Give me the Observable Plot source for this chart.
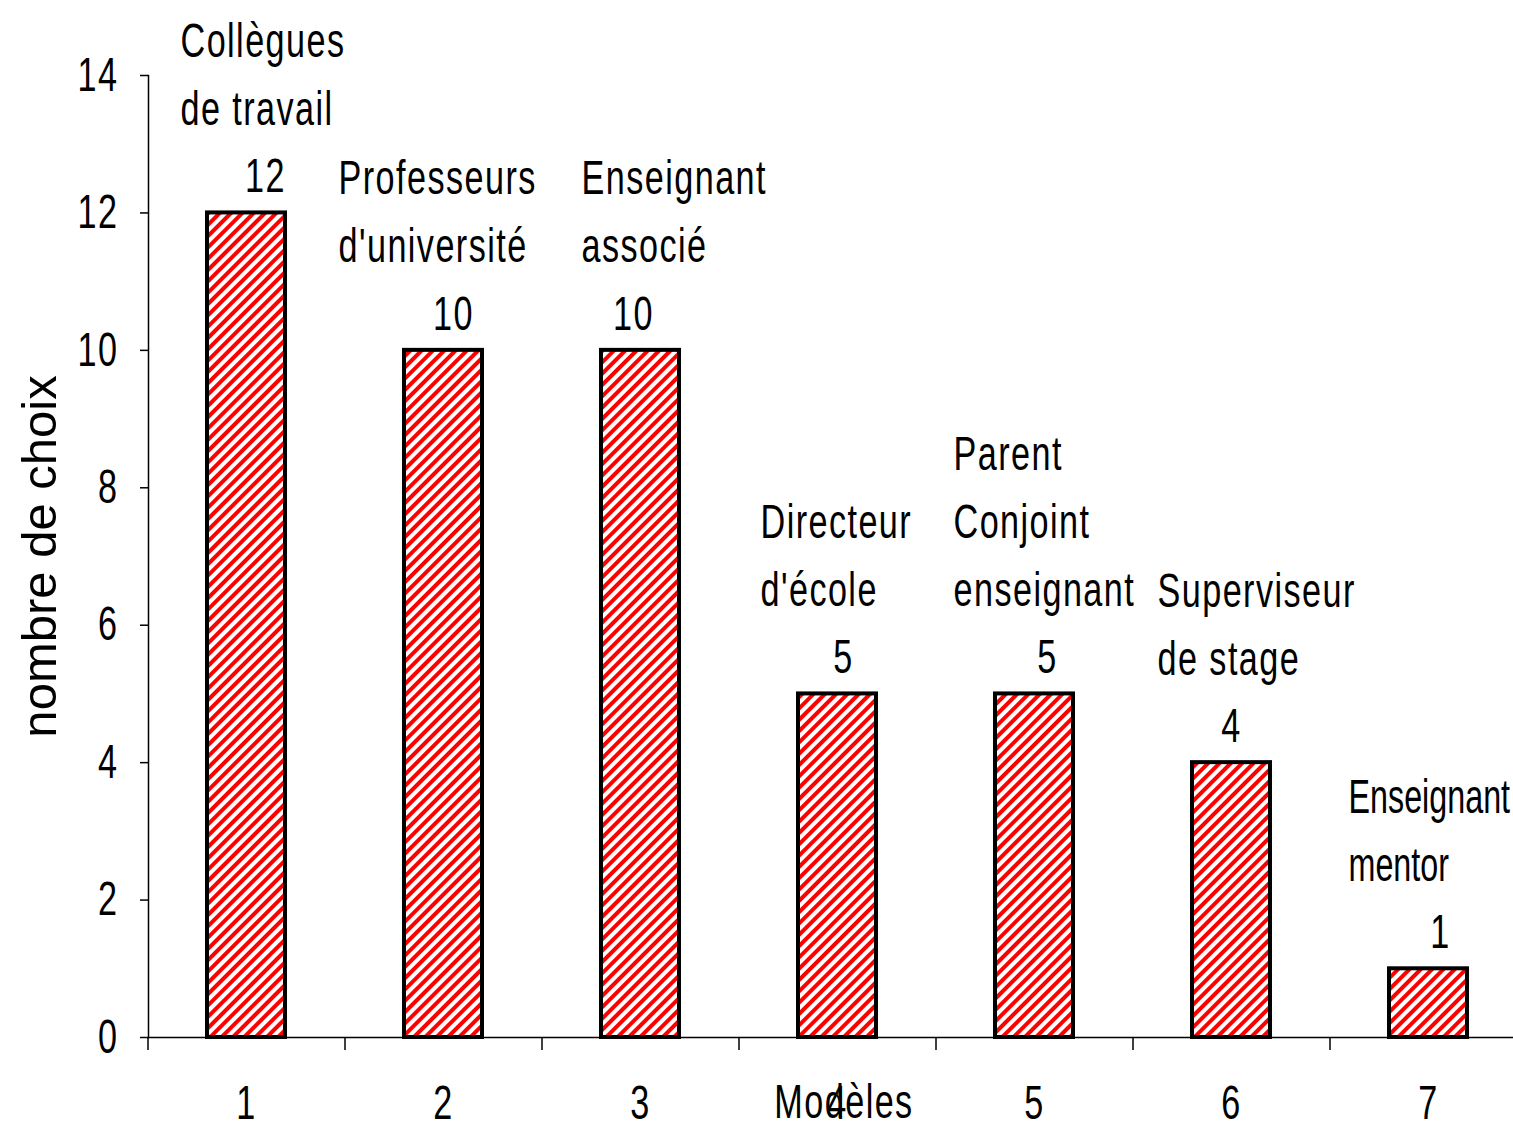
<!DOCTYPE html>
<html>
<head>
<meta charset="utf-8">
<script src="https://cdn.jsdelivr.net/npm/d3@7"></script>
<script src="https://cdn.jsdelivr.net/npm/@observablehq/plot@0.6"></script>
<style>
  html, body { margin: 0; padding: 0; background: #fff; overflow: hidden; }
</style>
</head>
<body>
<div id="chart"></div>
<script>
const categories = [1, 2, 3, 4, 5, 6, 7];
const values = [12, 10, 10, 5, 5, 4, 1];
const names = [
  "Collègues\nde travail",
  "Professeurs\nd'université",
  "Enseignant\nassocié",
  "Directeur\nd'école",
  "Parent\nConjoint\nenseignant",
  "Superviseur\nde stage",
  "Enseignant\nmentor"
];
const yTicks = [0, 2, 4, 6, 8, 10, 12, 14];
const xTitle = "Modèles";
const yTitle = "nombre de choix";

// label nudges (layout only), in pixels from the bar centre
const nameNudge = [-66, -105, -59, -77, -81, -74, -80];
const valueNudge = [19, 10, -7, 6, 13, 0, 12];

const data = categories.map((c, i) => ({cat: c, value: values[i], name: names[i]}));

const sans = "'Liberation Sans', Arial, 'Helvetica', sans-serif";
const fs = 47.5;
const squeeze = 0.72;

const defs = () => {
  const d = d3.create("svg:defs");
  const p = d.append("pattern")
    .attr("id", "hatch")
    .attr("patternUnits", "userSpaceOnUse")
    .attr("width", 8).attr("height", 8)
    .attr("patternTransform", "rotate(45)");
  p.append("rect").attr("width", 8).attr("height", 8).attr("fill", "#fff");
  p.append("rect").attr("width", 4).attr("height", 8).attr("fill", "#ff0000");
  return d.node();
};

const nameMarks = data.map((d, i) => Plot.text([d], {
  x: "cat", y: "value", text: "name", textAnchor: "start", lineAnchor: "bottom",
  lineHeight: 1.43, dx: nameNudge[i], dy: -88, fontSize: fs, fill: "#000"
}));
const valueMarks = data.map((d, i) => Plot.text([d], {
  x: "cat", y: "value", text: e => String(e.value), dx: valueNudge[i], dy: -36,
  lineAnchor: "middle", fontSize: fs, fill: "#000"
}));

const chart = Plot.plot({
  width: 1513,
  height: 1131,
  marginLeft: 148,
  marginRight: 0,
  marginTop: 75,
  marginBottom: 94,
  style: {fontFamily: sans, fontSize: fs + "px", color: "#000", background: "#fff"},
  x: {type: "band", domain: categories, range: [148, 1527], paddingInner: 0.604, paddingOuter: 0.302, label: null},
  y: {domain: [0, 14], label: null},
  marks: [
    defs,
    Plot.barY(data, {x: "cat", y: "value", fill: "url(#hatch)", stroke: "#000", strokeWidth: 4}),
    Plot.frame({anchor: "left", stroke: "#000", strokeWidth: 1.5}),
    Plot.ruleY([0], {stroke: "#000", strokeWidth: 1.5}),
    Plot.axisY({ticks: yTicks, tickSize: 8, tickPadding: 22, fontSize: fs, stroke: "#000", strokeWidth: 1.5, label: null}),
    Plot.axisX({tickSize: 13, tickFormat: () => "", dx: -98.5, stroke: "#000", strokeWidth: 1.5, label: null}),
    Plot.axisX({tickSize: 0, tickPadding: 48, fontSize: fs, label: null}),
    Plot.text([xTitle], {frameAnchor: "bottom", dx: 13, dy: 65, lineAnchor: "middle", fontSize: fs, fill: "#000"}),
    Plot.text([yTitle], {frameAnchor: "left", textAnchor: "middle", rotate: -90, dx: -108, fontSize: 49, fill: "#000"}),
    ...valueMarks,
    ...nameMarks
  ]
});

// condense the label glyphs horizontally, as in the reference
const lastName = names[names.length - 1].replace(/\n/g, "");
d3.select(chart).selectAll("text").each(function () {
  if (this.textContent === yTitle) return;
  const tight = this.textContent === lastName; // squeezed to fit the right edge
  const t = this.getAttribute("transform") || "";
  this.setAttribute("transform", `${t} scale(${tight ? 0.68 : squeeze},1)`);
  this.style.letterSpacing = tight ? "0px" : "2px";
});

document.getElementById("chart").appendChild(chart);
</script>
</body>
</html>
